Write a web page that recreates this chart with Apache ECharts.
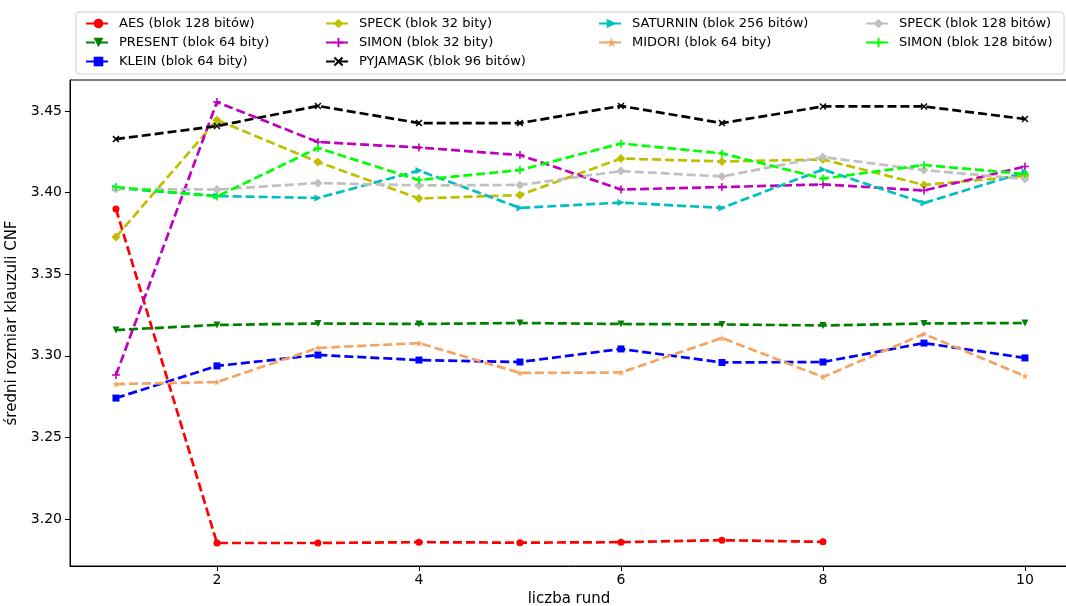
<!DOCTYPE html>
<html>
<head>
<meta charset="utf-8">
<script src="https://cdn.jsdelivr.net/npm/echarts@6/dist/echarts.min.js"></script>
<style>
  html, body { margin: 0; padding: 0; background: #fff; }
  #chart { width: 1066px; height: 606px; }
</style>
</head>
<body>
<div id="chart"></div>
<script>
// Number of rounds on the x axis
const rounds = [1, 2, 3, 4, 5, 6, 7, 8, 9, 10];
const xTicks = [2, 4, 6, 8, 10];
const yTicks = [3.20, 3.25, 3.30, 3.35, 3.40, 3.45];

// Average CNF clause size per cipher
const aes128      = [3.390, 3.1853, 3.1853, 3.1858, 3.1855, 3.1858, 3.1870, 3.1860];
const present64   = [3.3158, 3.3189, 3.3198, 3.3195, 3.3201, 3.3195, 3.3192, 3.3186, 3.3198, 3.3201];
const klein64     = [3.2741, 3.2938, 3.3005, 3.2974, 3.2962, 3.3042, 3.2959, 3.2962, 3.3078, 3.2987];
const speck32     = [3.3728, 3.4445, 3.4188, 3.3964, 3.3985, 3.4209, 3.4191, 3.4203, 3.4047, 3.4102];
const simon32     = [3.2882, 3.4555, 3.4310, 3.4276, 3.4230, 3.4019, 3.4034, 3.4050, 3.4013, 3.4160];
const pyjamask96  = [3.4328, 3.4408, 3.4531, 3.4426, 3.4426, 3.4531, 3.4426, 3.4528, 3.4528, 3.4451];
const saturnin256 = [3.4028, 3.3979, 3.3967, 3.4135, 3.3906, 3.3939, 3.3906, 3.4142, 3.3936, 3.4126];
const midori64    = [3.2827, 3.2839, 3.3048, 3.3078, 3.2895, 3.2898, 3.3109, 3.2870, 3.3134, 3.2876];
const speck128    = [3.4022, 3.4019, 3.4059, 3.4044, 3.4047, 3.4132, 3.4099, 3.4218, 3.4138, 3.4083];
const simon128    = [3.4034, 3.3976, 3.4273, 3.4077, 3.4138, 3.4301, 3.4240, 3.4086, 3.4169, 3.4114];

const FONT = 'DejaVu Sans';

const plusPath = 'path://M4,0 L6,0 L6,4 L10,4 L10,6 L6,6 L6,10 L4,10 L4,6 L0,6 L0,4 L4,4 Z';
const xPath = 'path://M1.5,0 L5,3.5 L8.5,0 L10,1.5 L6.5,5 L10,8.5 L8.5,10 L5,6.5 L1.5,10 L0,8.5 L3.5,5 L0,1.5 Z';
const starPath = 'path://M5,0 L6.2,3.6 L10,3.6 L6.9,5.9 L8.1,9.5 L5,7.3 L1.9,9.5 L3.1,5.9 L0,3.6 L3.8,3.6 Z';

const defs = [
  { name: 'AES (blok 128 bitów)',      data: aes128,      color: '#ff0000', symbol: 'circle',   size: 7 },
  { name: 'PRESENT (blok 64 bity)',    data: present64,   color: '#008000', symbol: 'triangle', size: 7, rotate: 180 },
  { name: 'KLEIN (blok 64 bity)',      data: klein64,     color: '#0000ff', symbol: 'rect',     size: 7 },
  { name: 'SPECK (blok 32 bity)',      data: speck32,     color: '#bfbf00', symbol: 'diamond',  size: 9 },
  { name: 'SIMON (blok 32 bity)',      data: simon32,     color: '#bf00bf', symbol: plusPath,   size: 8 },
  { name: 'PYJAMASK (blok 96 bitów)',  data: pyjamask96,  color: '#000000', symbol: xPath,      size: 7 },
  { name: 'SATURNIN (blok 256 bitów)', data: saturnin256, color: '#00bfbf', symbol: 'triangle', size: 7, rotate: -90 },
  { name: 'MIDORI (blok 64 bity)',     data: midori64,    color: '#f4a460', symbol: starPath,   size: 7 },
  { name: 'SPECK (blok 128 bitów)',    data: speck128,    color: '#c0c0c0', symbol: 'diamond',  size: 9 },
  { name: 'SIMON (blok 128 bitów)',    data: simon128,    color: '#00ff00', symbol: plusPath,   size: 8 }
];

const series = defs.map(d => ({
  name: d.name,
  type: 'line',
  data: d.data.map((v, i) => [rounds[i], v]),
  symbol: d.symbol,
  symbolSize: d.size,
  symbolRotate: d.rotate || 0,
  showSymbol: true,
  animation: false,
  itemStyle: { color: d.color },
  lineStyle: { color: d.color, width: 2.7, type: [9, 4] },
  emphasis: { disabled: true }
}));

const legendCols = [
  { left: 80,  names: defs.slice(0, 3) },
  { left: 320, names: defs.slice(3, 6) },
  { left: 593, names: defs.slice(6, 8) },
  { left: 860, names: defs.slice(8, 10) }
];

const legends = legendCols.map(c => ({
  orient: 'vertical',
  left: c.left,
  top: 12,
  itemWidth: 25,
  itemHeight: 12,
  itemGap: 6,
  selectedMode: false,
  textStyle: { fontFamily: FONT, fontSize: 13, color: '#000', padding: [0, 0, 0, 3] },
  data: c.names.map(d => d.name)
}));

const chart = echarts.init(document.getElementById('chart'), null, { renderer: 'canvas' });
chart.setOption({
  backgroundColor: '#fff',
  animation: false,
  textStyle: { fontFamily: FONT },
  legend: legends,
  graphic: [{
    type: 'rect',
    shape: { x: 76, y: 12, width: 988, height: 62, r: 3 },
    style: { fill: 'rgba(255,255,255,0.8)', stroke: '#d0d0d0', lineWidth: 1 },
    z: -1
  }],
  grid: {
    left: 70, right: -2, top: 80, bottom: 40,
    outerBoundsMode: 'none',
    containLabel: false,
    show: true, borderColor: '#000', borderWidth: 1, backgroundColor: 'transparent'
  },
  xAxis: {
    type: 'value',
    min: 0.545, max: 10.426,
    name: 'liczba rund',
    nameLocation: 'middle',
    nameGap: 25,
    nameTextStyle: { fontFamily: FONT, fontSize: 15, color: '#000' },
    axisLine: { show: true, lineStyle: { color: '#000', width: 1 } },
    axisTick: { show: true, inside: false, length: 5, lineStyle: { color: '#000' }, customValues: xTicks },
    axisLabel: { fontFamily: FONT, fontSize: 14, color: '#000', margin: 7, customValues: xTicks },
    splitLine: { show: false }
  },
  yAxis: {
    type: 'value',
    min: 3.1712, max: 3.469,
    name: 'średni rozmiar klauzuli CNF',
    nameLocation: 'middle',
    nameGap: 41,
    nameTextStyle: { fontFamily: FONT, fontSize: 15, color: '#000' },
    axisLine: { show: true, lineStyle: { color: '#000', width: 1 } },
    axisTick: { show: true, inside: false, length: 5, lineStyle: { color: '#000' }, customValues: yTicks },
    axisLabel: {
      fontFamily: FONT, fontSize: 14, color: '#000', margin: 8,
      customValues: yTicks,
      formatter: v => v.toFixed(2)
    },
    splitLine: { show: false }
  },
  series: series
});
</script>
</body>
</html>
